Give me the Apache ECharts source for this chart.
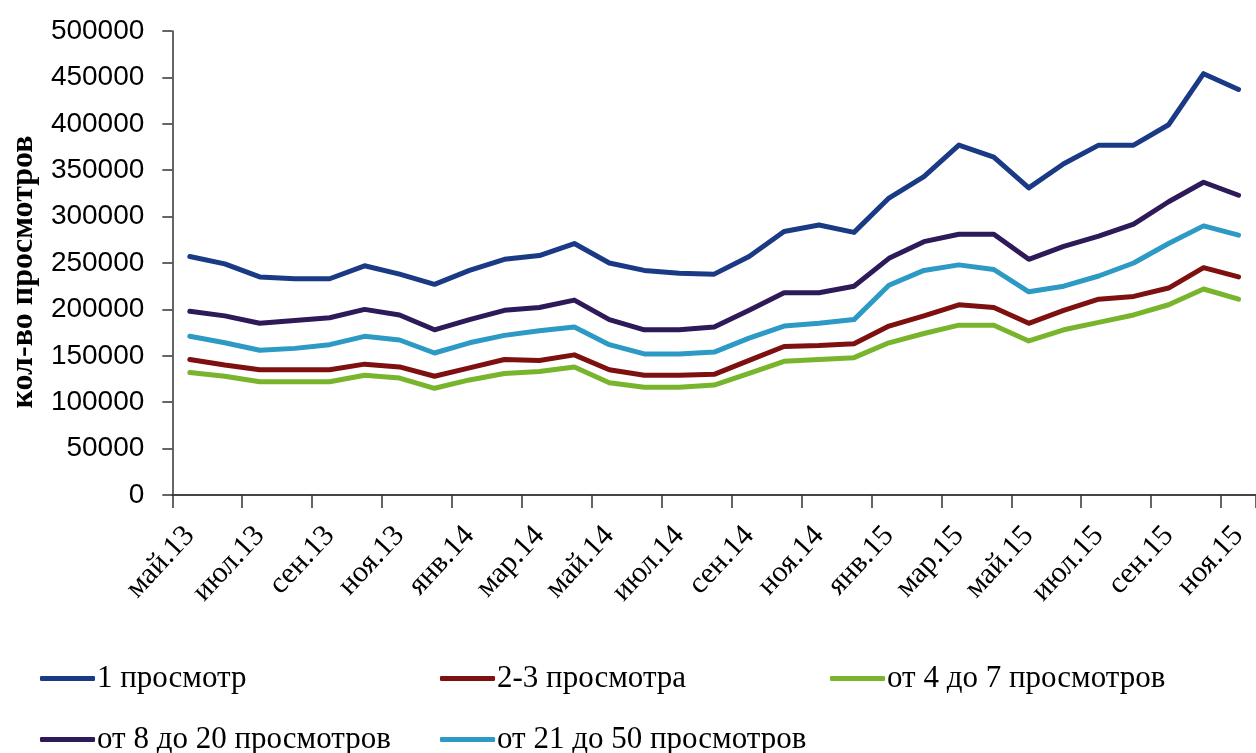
<!DOCTYPE html>
<html>
<head>
<meta charset="utf-8">
<script src="https://cdn.jsdelivr.net/npm/echarts@6/dist/echarts.min.js"></script>
<style>
  html, body { margin: 0; padding: 0; background: #ffffff; }
  #chart { width: 1256px; height: 753px; }
</style>
</head>
<body>
<div id="chart"></div>
<script>
// Categories (months May 2013 .. Nov 2015)
const months = [
  'май.13','июн.13','июл.13','авг.13','сен.13','окт.13','ноя.13','дек.13',
  'янв.14','фев.14','мар.14','апр.14','май.14','июн.14','июл.14','авг.14',
  'сен.14','окт.14','ноя.14','дек.14','янв.15','фев.15','мар.15','апр.15',
  'май.15','июн.15','июл.15','авг.15','сен.15','окт.15','ноя.15'
];

const seriesNames = [
  '1 просмотр',
  '2-3 просмотра',
  'от 4 до 7 просмотров',
  'от 8 до 20 просмотров',
  'от 21 до 50 просмотров'
];

const views1 = [257000,249000,235000,233000,233000,247000,238000,227000,
  242000,254000,258000,271000,250000,242000,239000,238000,
  257000,284000,291000,283000,320000,343000,377000,364000,
  331000,357000,377000,377000,399000,454000,437000];

const views2to3 = [146000,140000,135000,135000,135000,141000,138000,128000,
  137000,146000,145000,151000,135000,129000,129000,130000,
  145000,160000,161000,163000,182000,193000,205000,202000,
  185000,199000,211000,214000,223000,245000,235000];

const views4to7 = [132000,128000,122000,122000,122000,129000,126000,115000,
  124000,131000,133000,138000,121000,116000,116000,118500,
  131000,144000,146000,148000,164000,174000,183000,183000,
  166000,178000,186000,194000,205000,222000,211000];

const views8to20 = [198000,193000,185000,188000,191000,200000,194000,178000,
  189000,199000,202000,210000,189000,178000,178000,181000,
  199000,218000,218000,225000,255000,273000,281000,281000,
  254000,268000,279000,292000,316000,337000,323000];

const views21to50 = [171000,164000,156000,158000,162000,171000,167000,153000,
  164000,172000,177000,181000,162000,152000,152000,154000,
  169000,182000,185000,189000,226000,242000,248000,243000,
  219000,225000,236000,250000,271000,290000,280000];

const yAxisTitle = 'кол-во просмотров';

const colors = ['#1a3a86', '#7e1010', '#78b52c', '#2e1a58', '#2c9ac4'];
const seriesData = [views1, views2to3, views4to7, views8to20, views21to50];

const serif = '"Liberation Serif", "Times New Roman", serif';

function legendAt(name, left, top) {
  return {
    data: [name],
    left: left,
    top: top,
    orient: 'horizontal',
    icon: 'roundRect',
    itemWidth: 55,
    itemHeight: 5,
    padding: 0,
    textStyle: { fontFamily: serif, fontSize: 31, color: '#000', padding: [0, 0, 0, -3] },
    selectedMode: false
  };
}

const chart = echarts.init(document.getElementById('chart'), null, { renderer: 'canvas' });
chart.setOption({
  backgroundColor: '#ffffff',
  animation: false,
  color: colors,
  grid: { left: 166, right: -4, top: 31, bottom: 258, containLabel: false },
  legend: [
    legendAt(seriesNames[0], 40, 663),
    legendAt(seriesNames[1], 440, 663),
    legendAt(seriesNames[2], 830, 663),
    legendAt(seriesNames[3], 40, 724),
    legendAt(seriesNames[4], 440, 724)
  ],
  xAxis: {
    type: 'category',
    data: months,
    boundaryGap: true,
    axisLine: { show: true, lineStyle: { color: '#444', width: 2 } },
    axisTick: { show: true, interval: 1, length: 13, lineStyle: { color: '#333', width: 1.5 } },
    axisLabel: {
      interval: 1,
      rotate: 47,
      margin: 36,
      fontFamily: serif,
      fontSize: 30,
      color: '#000'
    },
    splitLine: { show: false }
  },
  yAxis: {
    type: 'value',
    min: 0,
    max: 500000,
    interval: 50000,
    name: yAxisTitle,
    nameLocation: 'middle',
    nameGap: 127,
    nameTextStyle: { fontFamily: serif, fontSize: 32, fontWeight: 'bold', color: '#000', padding: [0, 18, 0, 0] },
    axisLine: { show: true, lineStyle: { color: '#333', width: 1.5 } },
    axisTick: { show: true, inside: false, length: 10, lineStyle: { color: '#333', width: 1.5 } },
    axisLabel: {
      margin: 28,
      fontFamily: '"Liberation Sans", Arial, sans-serif',
      fontSize: 28,
      color: '#000',
      formatter: function (v) { return String(v); }
    },
    splitLine: { show: false }
  },
  series: seriesNames.map((name, i) => ({
    name: name,
    type: 'line',
    data: seriesData[i],
    showSymbol: false,
    symbol: 'none',
    smooth: false,
    lineStyle: { width: 5, color: colors[i], cap: 'round', join: 'round' },
    itemStyle: { color: colors[i] },
    z: 10 - i
  }))
});
</script>
</body>
</html>
